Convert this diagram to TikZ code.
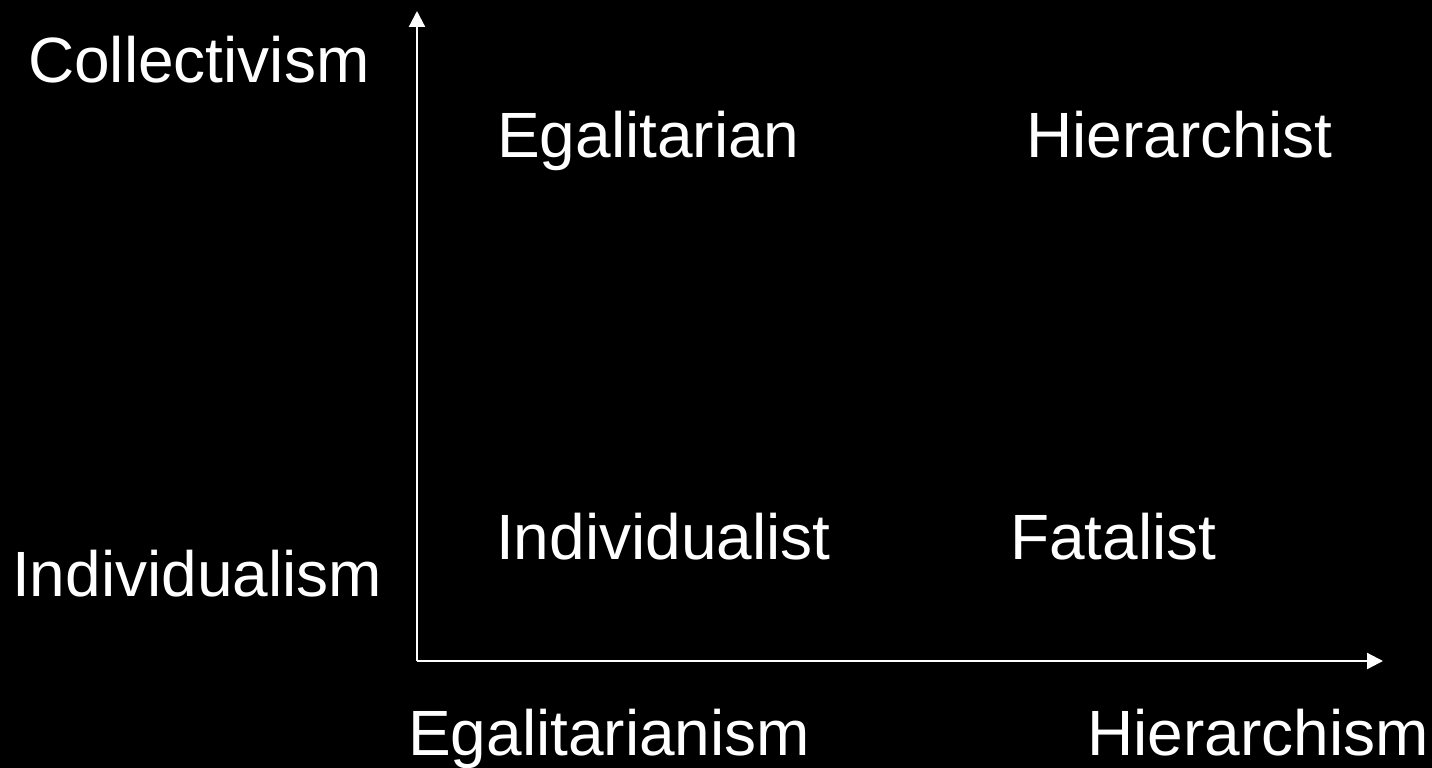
\documentclass[tikz,border=0pt]{standalone}
\usepackage{fontspec}
\setmainfont{Liberation Sans}
\usetikzlibrary{arrows.meta}
\begin{document}
\begin{tikzpicture}[x=1pt,y=-1pt,
  lbl/.style={anchor=base west,inner sep=0pt,text=white,font=\fontsize{64}{70}\selectfont},
  axis/.style={draw=white,line width=2.2pt,-{Triangle[length=16pt,width=16pt]}}]
  \fill[black] (0,0) rectangle (1432,768);
  \useasboundingbox (0,0) rectangle (1432,768);
  \coordinate (o) at (417,661);
  \coordinate (ytip) at (417,11);
  \coordinate (xtip) at (1383,661);
  \draw[axis] (o) -- (ytip);
  \draw[axis] (o) -- (xtip);
  \node[lbl] (coll) at (28,82) {Collectivism};
  \node[lbl] (indiv) at (12,596) {Individualism};
  \node[lbl] (egal) at (497,157) {Egalitarian};
  \node[lbl] (hier) at (1026,157) {Hierarchist};
  \node[lbl] (indl) at (496,559) {Individualist};
  \node[lbl] (fatal) at (1010,559) {Fatalist};
  \node[lbl] (egalism) at (408,755) {Egalitarianism};
  \node[lbl] (hierism) at (1087,755) {Hierarchism};
\end{tikzpicture}
\end{document}
